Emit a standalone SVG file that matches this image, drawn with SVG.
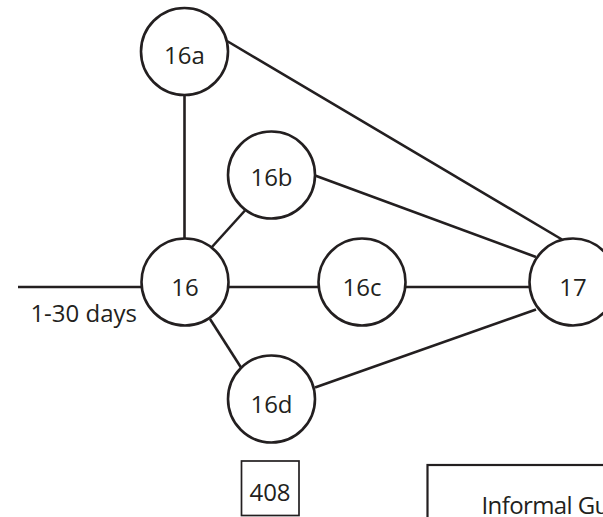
<svg xmlns="http://www.w3.org/2000/svg" width="603" height="517" viewBox="0 0 603 517">
<style>
.node circle{fill:#fff;stroke:#231f20;stroke-width:2.6}
.lbl{font-family:"Open Sans","Liberation Sans",sans-serif;font-size:24px;fill:#231f20;text-anchor:middle}
#connectors line{stroke:#231f20;stroke-width:2.6;fill:none}
</style>
<rect width="603" height="517" fill="#fff"/>
<g id="connectors">
<line x1="18" y1="287" x2="141" y2="287"/>
<line x1="184.5" y1="95.5" x2="184.5" y2="238"/>
<line x1="227" y1="41" x2="562" y2="239.5"/>
<line x1="315" y1="175.5" x2="536" y2="257"/>
<line x1="211.5" y1="247.5" x2="245" y2="210.5"/>
<line x1="229" y1="287" x2="318" y2="287"/>
<line x1="406" y1="287" x2="529.5" y2="287"/>
<line x1="210" y1="319" x2="241" y2="367.5"/>
<line x1="315" y1="387.5" x2="536" y2="309.5"/>
</g>
<g id="n16a" class="node"><circle cx="184.5" cy="51.5" r="43.5"/><text class="lbl" x="184.5" y="64">16a</text></g>
<g id="n16b" class="node"><circle cx="271.5" cy="175" r="43.5"/><text class="lbl" x="271.5" y="185.5">16b</text></g>
<g id="n16" class="node"><circle cx="185" cy="282" r="43.5"/><text class="lbl" x="185" y="295.5">16</text></g>
<g id="n16c" class="node"><circle cx="362" cy="282" r="43.5"/><text class="lbl" x="362" y="295.5">16c</text></g>
<g id="n16d" class="node"><circle cx="271.5" cy="399" r="43.5"/><text class="lbl" x="271.5" y="412.5">16d</text></g>
<g id="n17" class="node"><circle cx="573" cy="282" r="43.5"/><text class="lbl" x="573" y="295.5">17</text></g>
<text class="lbl" x="137" y="321.5" style="text-anchor:end">1-30 days</text>
<g id="ref408"><rect x="241.5" y="461" width="57.5" height="54.5" fill="#fff" stroke="#231f20" stroke-width="1.7"/><text class="lbl" x="270" y="501">408</text></g>
<g id="informal"><rect x="427.5" y="465" width="200" height="80" fill="#fff" stroke="#231f20" stroke-width="2.2"/><text class="lbl" x="481.5" y="514" style="text-anchor:start;letter-spacing:-0.6px">Informal Gu</text></g>
</svg>
